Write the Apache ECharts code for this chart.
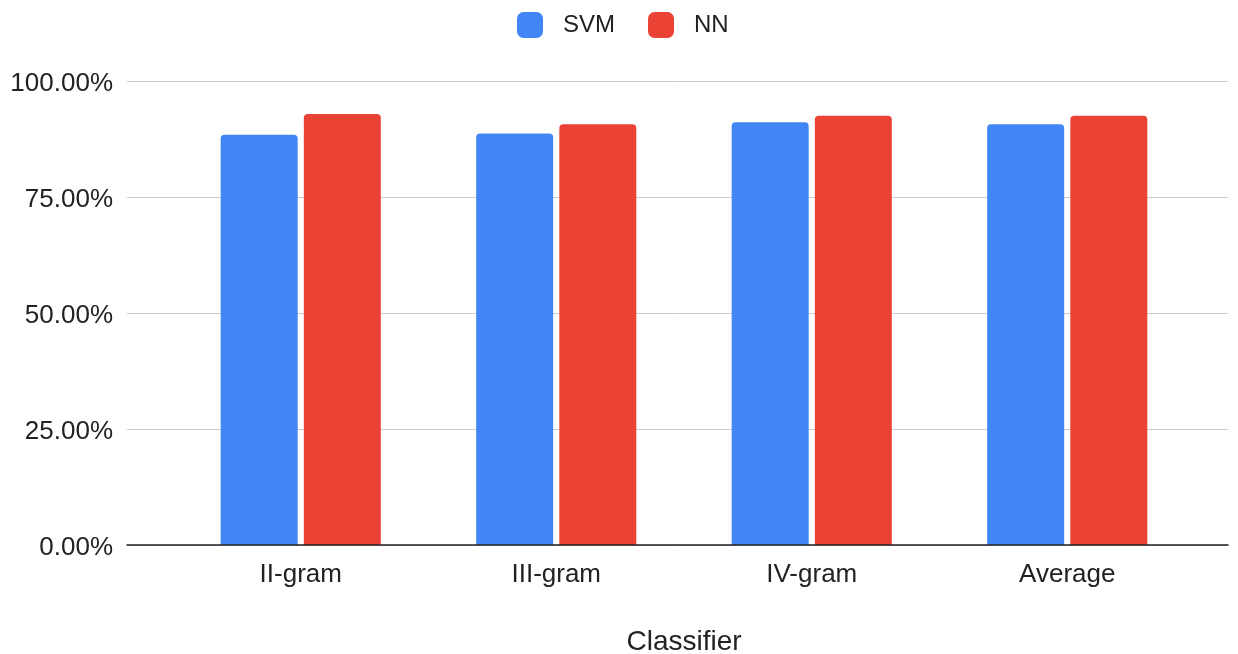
<!DOCTYPE html>
<html>
<head>
<meta charset="utf-8">
<script src="https://cdn.jsdelivr.net/npm/echarts@6/dist/echarts.min.js"></script>
<style>html,body{margin:0;padding:0;background:#fff;}#c{width:1238px;height:654px;}</style>
</head>
<body>
<div id="c"></div>
<script>
const categories = ['II-gram', 'III-gram', 'IV-gram', 'Average'];
const svmValues = [0.884, 0.887, 0.911, 0.907];
const nnValues = [0.929, 0.907, 0.925, 0.925];
const yTicks = [0, 0.25, 0.5, 0.75, 1];

const FONT = '"Liberation Sans", Arial, sans-serif';
const chart = echarts.init(document.getElementById('c'), null, {renderer: 'canvas'});
chart.setOption({
  backgroundColor: '#ffffff',
  animation: false,
  textStyle: {fontFamily: FONT},
  legend: {
    data: ['SVM', 'NN'],
    top: 7,
    left: 512,
    icon: 'roundRect',
    itemWidth: 26,
    itemHeight: 26,
    itemGap: 33,
    textStyle: {fontSize: 24, color: '#222', fontFamily: FONT, padding: [0, 0, 0, 15]}
  },
  grid: [
    {left: 127, right: 10, top: 81, bottom: 109, containLabel: false, outerBoundsMode: 'none'},
    {left: 173, right: 43, top: 81, bottom: 109, containLabel: false, outerBoundsMode: 'none'}
  ],
  xAxis: [
    {
      gridIndex: 0, type: 'value', min: 0, max: 1, z: 10,
      axisLine: {show: true, onZero: false, lineStyle: {color: '#222', width: 1.5}},
      axisTick: {show: false}, axisLabel: {show: false}, splitLine: {show: false}
    },
    {
      gridIndex: 1, type: 'category', data: categories,
      axisLine: {show: false}, axisTick: {show: false},
      axisLabel: {fontSize: 26, color: '#222', margin: 17, fontFamily: FONT},
      name: 'Classifier', nameLocation: 'middle', nameGap: 83,
      nameTextStyle: {fontSize: 28, color: '#222', fontFamily: FONT}
    }
  ],
  yAxis: [
    {
      gridIndex: 0, type: 'value', min: yTicks[0], max: yTicks[yTicks.length - 1], interval: 0.25,
      axisLine: {show: false}, axisTick: {show: false},
      axisLabel: {
        margin: 14,
        formatter: v => '{t|' + (v * 100).toFixed(2) + '%}',
        rich: {t: {fontSize: 26, color: '#222', fontFamily: FONT, padding: [6, 0, 0, 0]}}
      },
      splitLine: {show: true, lineStyle: {color: '#cccccc', width: 1}}
    },
    {
      gridIndex: 1, type: 'value', min: 0, max: 1,
      axisLine: {show: false}, axisTick: {show: false}, axisLabel: {show: false},
      splitLine: {show: false}
    }
  ],
  series: [
    {
      name: 'SVM', type: 'bar', xAxisIndex: 1, yAxisIndex: 1, data: svmValues,
      barWidth: 77, barGap: '8%',
      itemStyle: {color: '#4285F4', borderRadius: [4, 4, 0, 0]}
    },
    {
      name: 'NN', type: 'bar', xAxisIndex: 1, yAxisIndex: 1, data: nnValues,
      barWidth: 77, barGap: '8%',
      itemStyle: {color: '#EA4335', borderRadius: [4, 4, 0, 0]}
    }
  ]
});
</script>
</body>
</html>
